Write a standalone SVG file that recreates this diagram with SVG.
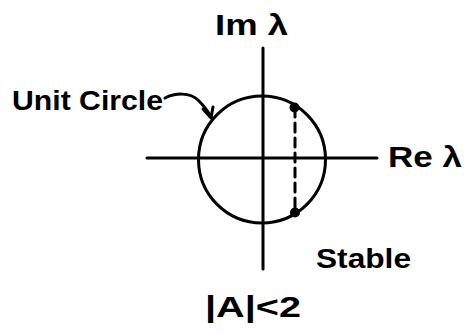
<svg xmlns="http://www.w3.org/2000/svg" width="464" height="333" viewBox="0 0 464 333">
<style>
.ln{fill:none;stroke:#000;stroke-width:3;stroke-linecap:round;stroke-linejoin:round}
.tx{font-family:"Liberation Sans",Arial,sans-serif;font-weight:bold;fill:#000}
</style>
<rect width="464" height="333" fill="#fff"/>
<g id="axes">
<line class="ln" x1="147" y1="158" x2="377" y2="158"/>
<line class="ln" x1="263" y1="48" x2="263" y2="269"/>
</g>
<g id="unit-circle">
<circle class="ln" cx="262" cy="159.5" r="63.5"/>
</g>
<g id="point-upper"><circle cx="294.5" cy="107.5" r="5"/></g>
<g id="point-lower"><circle cx="295" cy="212.5" r="5"/></g>
<g id="label-im"><text class="tx" x="215" y="35" font-size="29" textLength="73" lengthAdjust="spacingAndGlyphs">Im λ</text></g>
<g id="label-re"><text class="tx" x="388" y="167" font-size="29" textLength="74" lengthAdjust="spacingAndGlyphs">Re λ</text></g>
<g id="label-unit"><text class="tx" x="12" y="110" font-size="27" textLength="151" lengthAdjust="spacingAndGlyphs">Unit Circle</text></g>
<g id="label-stable"><text class="tx" x="316" y="268" font-size="27" textLength="95" lengthAdjust="spacingAndGlyphs">Stable</text></g>
<g id="label-cond"><text class="tx" x="205" y="317" font-size="30" textLength="96" lengthAdjust="spacingAndGlyphs">|A|&lt;2</text></g>
<g id="connectors">
<path class="ln" d="M165 98 C175 93 190 92 198 100 C204 106 208 111 211 117"/>
<path class="ln" d="M203 109 L211 118 L213 107"/>
<line class="ln" x1="295" y1="108" x2="295" y2="212" stroke-dasharray="9 6"/>
</g>
</svg>
